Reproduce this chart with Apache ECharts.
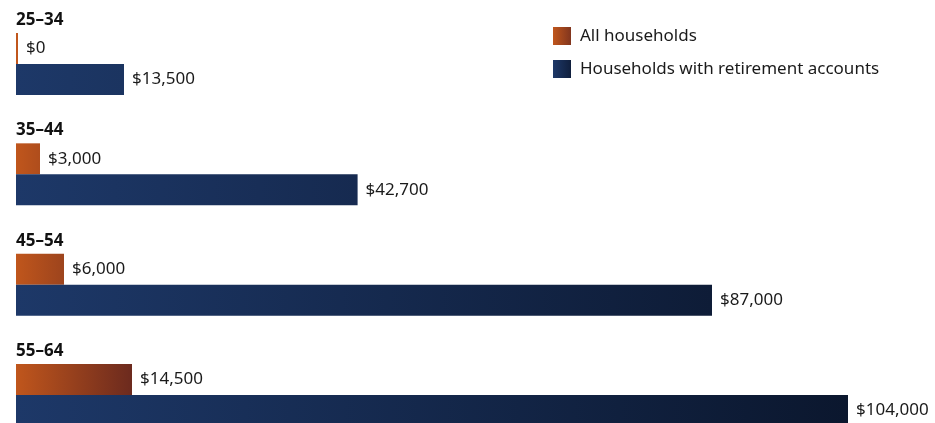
<!DOCTYPE html>
<html>
<head>
<meta charset="utf-8">
<script src="https://cdn.jsdelivr.net/npm/echarts@6/dist/echarts.min.js"></script>
<style>
  html, body { margin: 0; padding: 0; background: #ffffff; }
  #chart { width: 935px; height: 423px; }
</style>
</head>
<body>
<div id="chart"></div>
<script>
// Age groups and median retirement savings (US dollars)
const ageGroups = ['25–34', '35–44', '45–54', '55–64'];
const allHouseholds = [0, 3000, 6000, 14500];
const withRetirementAccounts = [13500, 42700, 87000, 104000];
const seriesNames = ['All households', 'Households with retirement accounts'];

const FONT = '"Noto Sans", "Open Sans", sans-serif';

// Colour ramps: each bar darkens toward its right end in proportion to its length
const orangeRamp = ['#c0561c', '#6c2a1e'];
const navyRamp = ['#1d3868', '#0b172e'];

function hexToRgb(h) {
  return [1, 3, 5].map(i => parseInt(h.slice(i, i + 2), 16));
}
function mix(a, b, t) {
  const ca = hexToRgb(a), cb = hexToRgb(b);
  return 'rgb(' + ca.map((v, i) => Math.round(v + (cb[i] - v) * t)).join(',') + ')';
}
function ramp(colors, t) {
  return {
    type: 'linear', x: 0, y: 0, x2: 1, y2: 0,
    colorStops: [
      { offset: 0, color: colors[0] },
      { offset: 1, color: mix(colors[0], colors[1], t) }
    ]
  };
}
function shadedData(values, colors) {
  const max = Math.max(...values);
  return values.map(v => ({ value: v, itemStyle: { color: ramp(colors, v / max) } }));
}

const money = p => '$' + p.value.toLocaleString('en-US');

const barLabel = {
  show: true,
  position: 'right',
  distance: 8,
  formatter: money,
  color: '#1a1a1a',
  fontFamily: FONT,
  fontSize: 17
};

const chart = echarts.init(document.getElementById('chart'), null, { renderer: 'canvas' });
chart.setOption({
  animation: false,
  backgroundColor: '#ffffff',
  legend: {
    orient: 'vertical',
    left: 548,
    top: 22,
    itemWidth: 18,
    itemHeight: 18,
    itemGap: 15,
    icon: 'rect',
    textStyle: { fontFamily: FONT, fontSize: 17, color: '#1a1a1a', padding: [0, 0, 0, 4] },
    data: [
      { name: seriesNames[0], itemStyle: { color: ramp(orangeRamp, 0.75) } },
      { name: seriesNames[1], itemStyle: { color: ramp(navyRamp, 0.75) } }
    ]
  },
  // Each age group is centred on its tick; the first and last ticks sit on the grid edges
  grid: {
    left: 16, top: 64, height: 331, width: 880,
    containLabel: false,
    outerBoundsMode: 'none'
  },
  xAxis: {
    type: 'value',
    min: 0,
    max: 110000,
    show: false
  },
  yAxis: {
    type: 'category',
    inverse: true,
    boundaryGap: false,
    data: ageGroups,
    axisLine: { show: false },
    axisTick: { show: false },
    splitLine: { show: false },
    axisLabel: {
      inside: true,
      margin: 0,
      interval: 0,
      showMinLabel: true,
      showMaxLabel: true,
      hideOverlap: false,
      align: 'left',
      verticalAlign: 'middle',
      formatter: v => '{age|' + v + '}\n{gap|}',
      rich: {
        age: {
          color: '#111111',
          fontFamily: FONT,
          fontWeight: 'bold',
          fontSize: 17,
          lineHeight: 20
        },
        gap: { height: 88, lineHeight: 88 }
      }
    }
  },
  series: [
    {
      name: seriesNames[0],
      type: 'bar',
      barWidth: 31,
      barGap: '0%',
      barMinHeight: 2,
      clip: false,
      data: shadedData(allHouseholds, orangeRamp),
      label: barLabel
    },
    {
      name: seriesNames[1],
      type: 'bar',
      barWidth: 31,
      barGap: '0%',
      clip: false,
      data: shadedData(withRetirementAccounts, navyRamp),
      label: barLabel
    }
  ]
});
</script>
</body>
</html>
